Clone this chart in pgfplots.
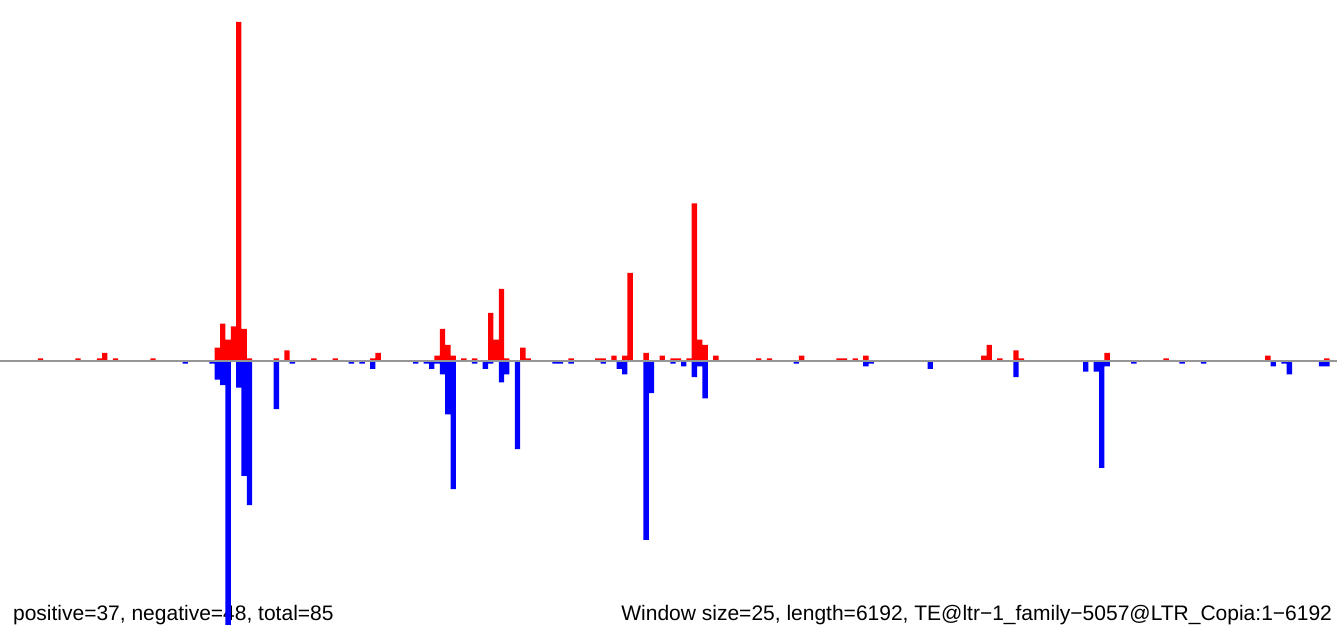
\documentclass[border=0pt]{standalone}
\usepackage{pgfplots}
\pgfplotsset{compat=1.18}
\usepackage{pgfplotstable}
\usepackage{fontspec}
\setmainfont{Liberation Sans}
\definecolor{basegray}{RGB}{150,150,150}

\pgfplotstableread{
i v
5 1
12 1
16 1
17 3
19 1
26 1
38 5
39 14
40 8
41 13
42 127
43 12
44 1
49 1
51 4
56 1
60 1
67 1
68 3
79 2
80 12
81 6
82 2
84 1
86 1
89 18
90 8
91 27
92 1
95 5
96 1
104 1
109 1
110 1
112 2
114 2
115 33
118 3
121 2
123 1
124 1
126 1
127 59
128 8
129 6
131 2
139 1
141 1
147 2
154 1
155 1
157 1
159 2
181 2
182 6
184 1
187 4
188 1
204 3
215 1
234 2
245 1
}\positive

\pgfplotstableread{
i v
32 -1
37 -1
38 -7
39 -9
40 -100
42 -10
43 -43
44 -54
49 -18
52 -1
63 -1
65 -1
67 -3
75 -1
77 -1
78 -3
79 -1
80 -5
81 -20
82 -48
86 -1
88 -3
89 -1
91 -8
92 -5
94 -33
101 -1
102 -1
104 -1
110 -1
113 -3
114 -5
118 -67
119 -12
123 -1
125 -2
127 -6
128 -2
129 -14
146 -1
159 -2
160 -1
171 -3
187 -6
200 -4
202 -4
203 -40
204 -2
209 -1
218 -1
222 -1
235 -2
237 -1
238 -5
244 -2
245 -2
}\negative

\begin{document}
\begin{tikzpicture}[x=0.5pt,y=0.5pt]
\path[use as bounding box] (0,0) rectangle (1337,625);
\node[anchor=base west, inner sep=0pt, font=\fontsize{10.5}{12}\selectfont] at (12.7,4) {positive=37, negative=48, total=85};
\node[anchor=base west, inner sep=0pt, font=\fontsize{10.5}{12}\selectfont] at (621,4) {Window size=25, length=6192, TE@ltr−1\_family−5057@LTR\_Copia:1−6192};
\begin{axis}[
  at={(0,0)}, anchor=south west,
  width=668.5pt, height=312.5pt, scale only axis,
  xmin=-2.052, xmax=247.39,
  ymin=-98.88, ymax=135.2,
  hide axis,
]
\addplot[ybar, bar width=1, bar shift=0pt, fill=red, draw=none]
  table[x expr=\thisrow{i}+0.5, y=v] {\positive};
\addplot[ybar, bar width=1, bar shift=0pt, fill=blue, draw=none]
  table[x expr=\thisrow{i}+0.5, y=v] {\negative};
\draw[basegray, line width=0.9pt] (axis cs:-2.052,0) -- (axis cs:247.39,0);
\end{axis}
\end{tikzpicture}
\end{document}
